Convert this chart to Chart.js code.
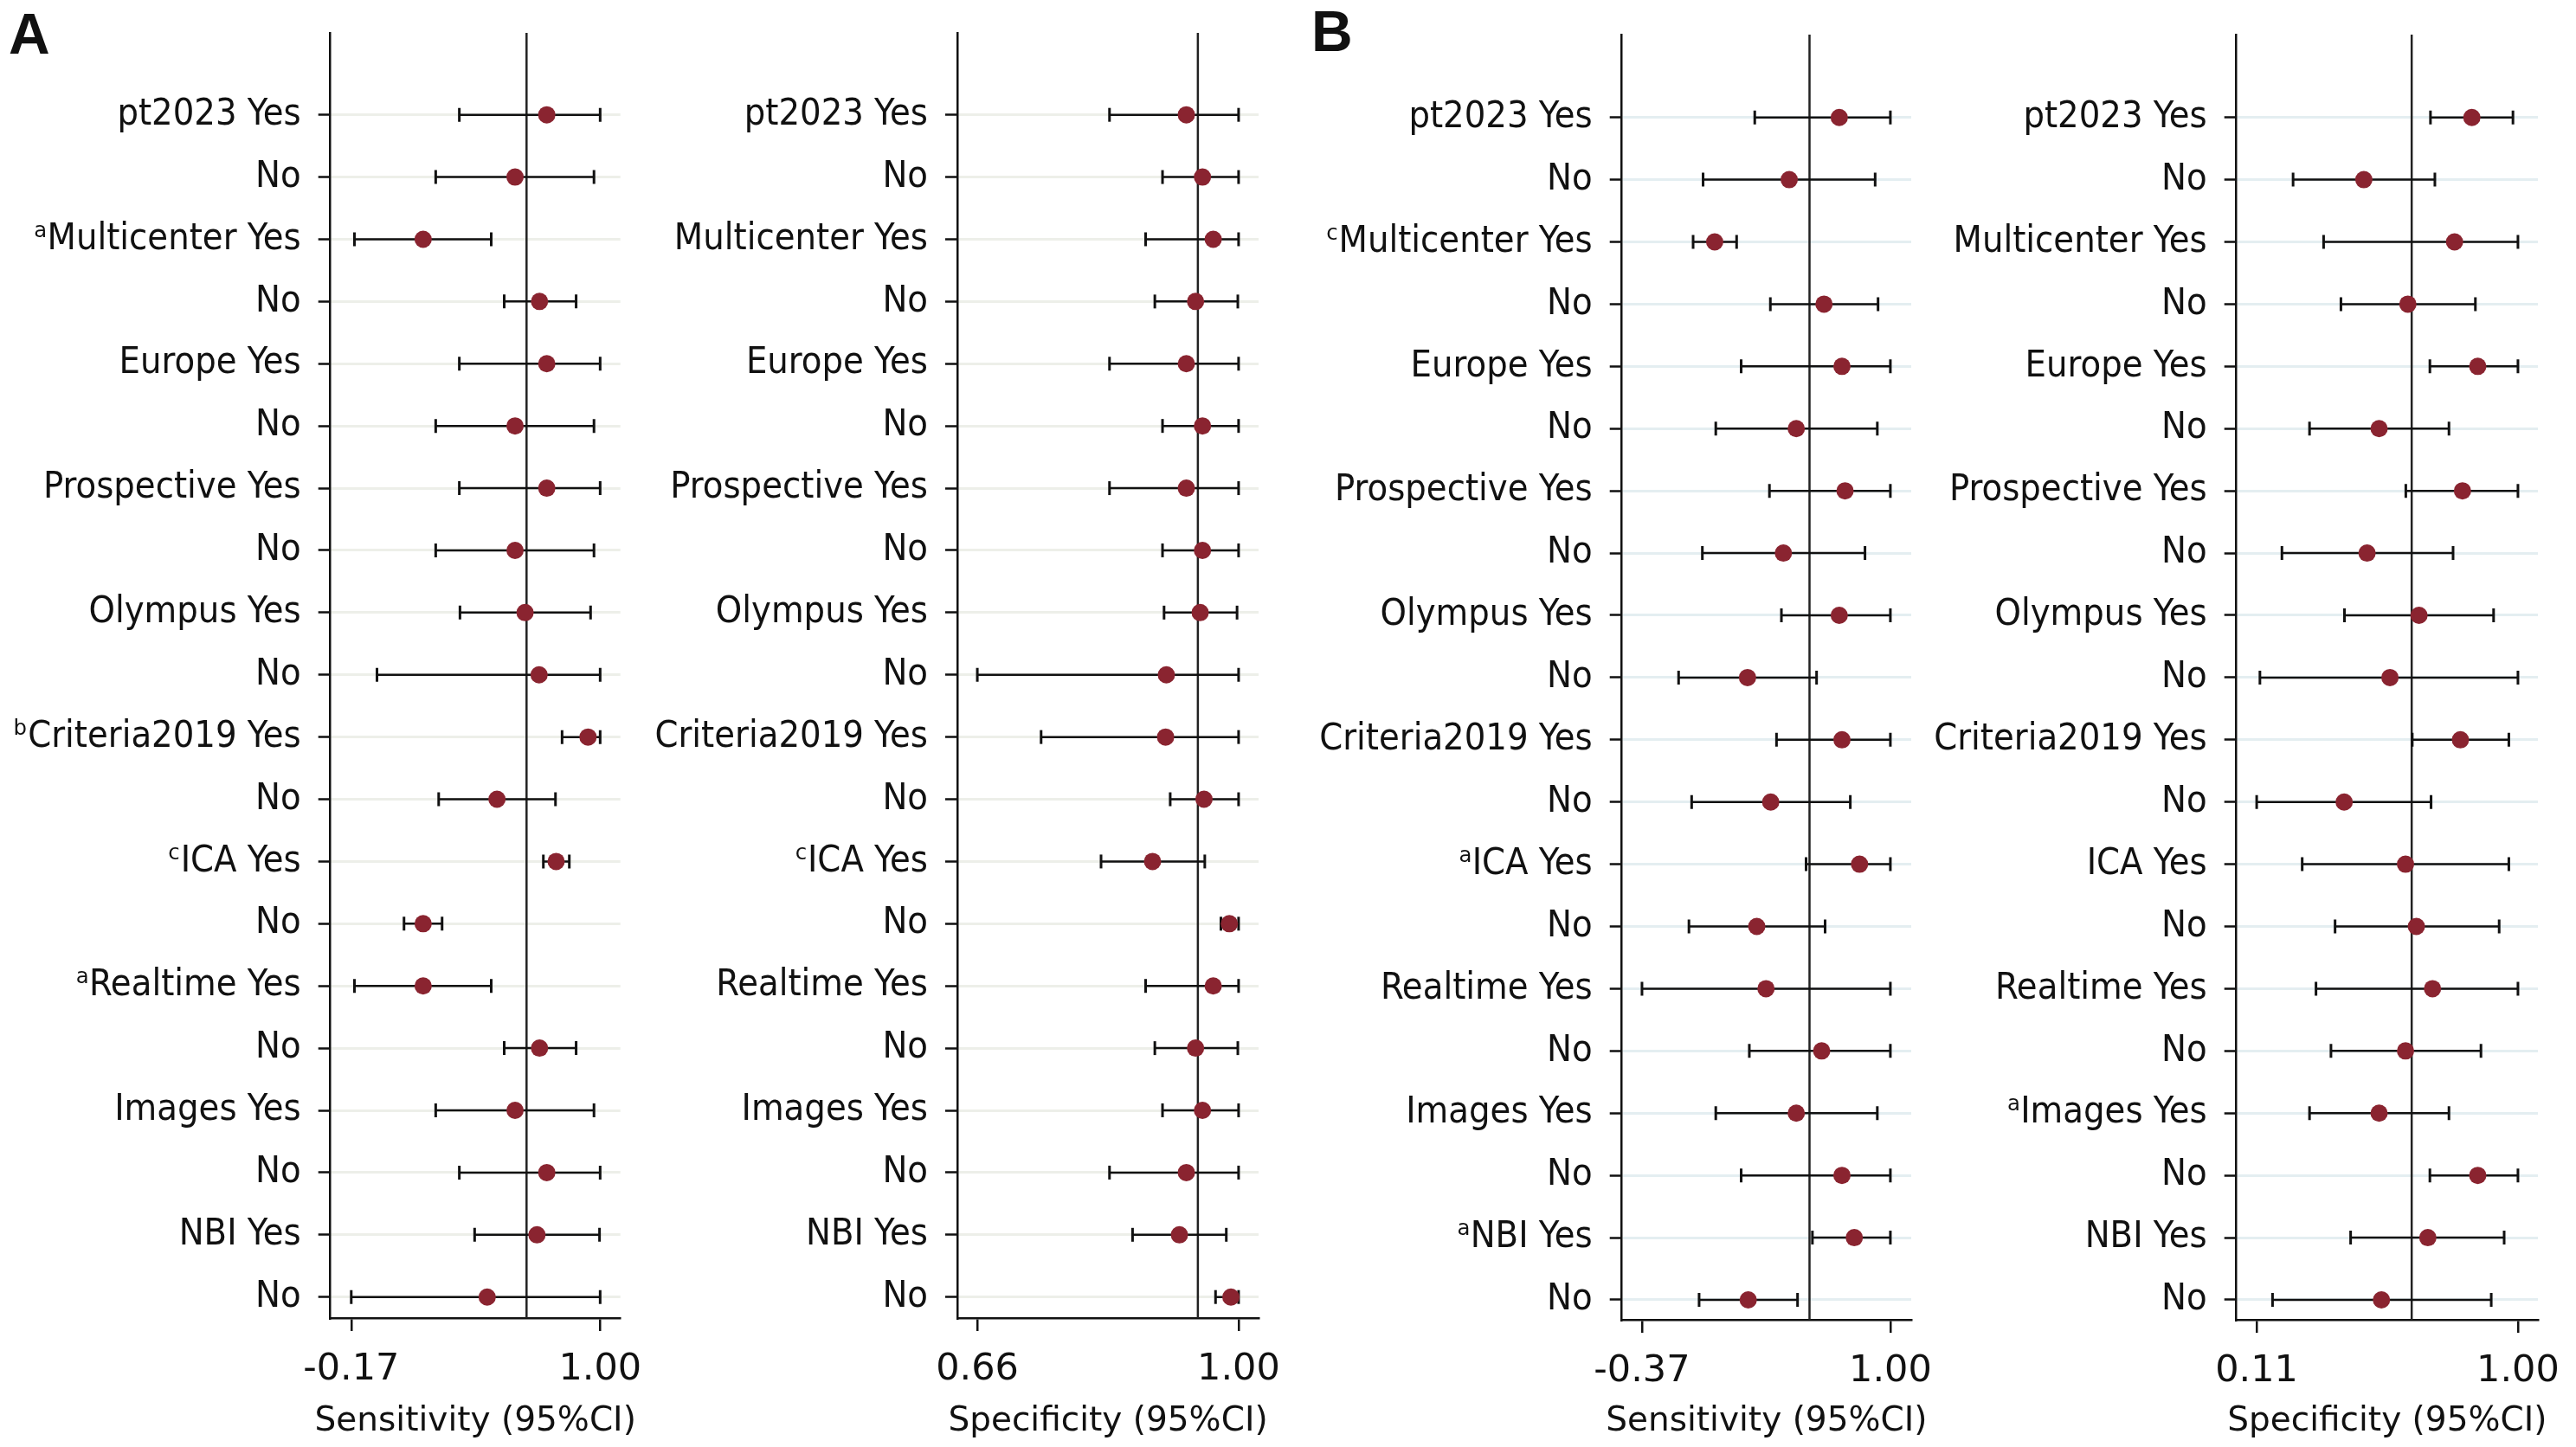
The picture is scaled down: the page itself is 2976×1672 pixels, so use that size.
<!DOCTYPE html>
<html>
<head>
<meta charset="utf-8">
<title>Subgroup forest plots</title>
<script src="https://cdn.jsdelivr.net/npm/chart.js@4.4.1/dist/chart.umd.min.js"></script>
<style>
  html, body { margin: 0; padding: 0; background: #fff; }
  body { width: 2976px; height: 1672px; position: relative; overflow: hidden; }
  canvas { position: absolute; top: 0; }
  .tag { position: absolute; font: bold 66px 'Liberation Sans', Arial, sans-serif; line-height: 1; color: #111; }
</style>
</head>
<body>
<div class="tag" style="left:10px; top:6px">A</div>
<div class="tag" style="left:1515px; top:3px">B</div>
<script>
// row labels (top to bottom)
const labelsSensA = ["pt2023 Yes", "No", "ᵃMulticenter Yes", "No", "Europe Yes", "No", "Prospective Yes", "No",
  "Olympus Yes", "No", "ᵇCriteria2019 Yes", "No", "ᶜICA Yes", "No", "ᵃRealtime Yes", "No", "Images Yes", "No", "NBI Yes", "No"];
const labelsSpecA = ["pt2023 Yes", "No", "Multicenter Yes", "No", "Europe Yes", "No", "Prospective Yes", "No",
  "Olympus Yes", "No", "Criteria2019 Yes", "No", "ᶜICA Yes", "No", "Realtime Yes", "No", "Images Yes", "No", "NBI Yes", "No"];
const labelsSensB = ["pt2023 Yes", "No", "ᶜMulticenter Yes", "No", "Europe Yes", "No", "Prospective Yes", "No",
  "Olympus Yes", "No", "Criteria2019 Yes", "No", "ᵃICA Yes", "No", "Realtime Yes", "No", "Images Yes", "No", "ᵃNBI Yes", "No"];
const labelsSpecB = ["pt2023 Yes", "No", "Multicenter Yes", "No", "Europe Yes", "No", "Prospective Yes", "No",
  "Olympus Yes", "No", "Criteria2019 Yes", "No", "ICA Yes", "No", "Realtime Yes", "No", "ᵃImages Yes", "No", "NBI Yes", "No"];

// panel A - sensitivity
const sensA = [0.749, 0.600, 0.168, 0.715, 0.749, 0.600, 0.749, 0.600, 0.647, 0.713, 0.943, 0.515, 0.793, 0.168, 0.168, 0.715, 0.600, 0.749, 0.703, 0.469];
const sensALo = [0.338, 0.227, -0.155, 0.549, 0.338, 0.227, 0.338, 0.227, 0.341, -0.049, 0.821, 0.241, 0.733, 0.078, -0.155, 0.549, 0.227, 0.338, 0.410, -0.170];
const sensAHi = [1.000, 0.971, 0.488, 0.887, 1.000, 0.971, 1.000, 0.971, 0.955, 1.000, 1.000, 0.790, 0.855, 0.257, 0.488, 0.887, 0.971, 1.000, 0.997, 1.000];

// panel A - specificity
const specA = [0.932, 0.953, 0.967, 0.944, 0.932, 0.953, 0.932, 0.953, 0.950, 0.906, 0.905, 0.955, 0.888, 0.988, 0.967, 0.944, 0.953, 0.932, 0.923, 0.990];
const specALo = [0.832, 0.901, 0.879, 0.891, 0.832, 0.901, 0.832, 0.901, 0.903, 0.660, 0.743, 0.911, 0.821, 0.977, 0.879, 0.891, 0.901, 0.832, 0.862, 0.970];
const specAHi = [1.000, 1.000, 1.000, 0.999, 1.000, 1.000, 1.000, 1.000, 0.998, 1.000, 1.000, 1.000, 0.956, 1.000, 1.000, 0.999, 1.000, 1.000, 0.984, 1.000];

// panel B - sensitivity
const sensB = [0.718, 0.442, 0.031, 0.634, 0.733, 0.481, 0.750, 0.410, 0.718, 0.212, 0.733, 0.340, 0.830, 0.263, 0.314, 0.621, 0.481, 0.733, 0.801, 0.216];
const sensBLo = [0.252, -0.033, -0.088, 0.338, 0.177, 0.037, 0.333, -0.037, 0.399, -0.168, 0.372, -0.096, 0.535, -0.111, -0.370, 0.222, 0.037, 0.177, 0.570, -0.055];
const sensBHi = [1.000, 0.916, 0.152, 0.932, 1.000, 0.928, 1.000, 0.860, 1.000, 0.593, 1.000, 0.779, 1.000, 0.640, 1.000, 1.000, 0.928, 1.000, 1.000, 0.488];

// panel B - specificity
const specB = [0.843, 0.475, 0.784, 0.625, 0.863, 0.527, 0.811, 0.486, 0.663, 0.564, 0.804, 0.408, 0.617, 0.654, 0.709, 0.617, 0.527, 0.863, 0.693, 0.535];
const specBLo = [0.702, 0.234, 0.338, 0.397, 0.700, 0.290, 0.618, 0.196, 0.409, 0.121, 0.640, 0.110, 0.265, 0.377, 0.312, 0.363, 0.290, 0.700, 0.430, 0.164];
const specBHi = [0.983, 0.717, 1.000, 0.855, 1.000, 0.765, 1.000, 0.779, 0.917, 1.000, 0.969, 0.704, 0.969, 0.936, 1.000, 0.874, 0.765, 1.000, 0.953, 0.909];

// pooled estimate (vertical line) and lower tick of each x axis
const refLines = [0.654, 0.947, 0.554, 0.638];
const lowTicks = [-0.17, 0.66, -0.37, 0.11];

const DOT = "#8a2430";
const INK = "#111";
const tickFont = { family: "'DejaVu Sans', sans-serif", size: 43 };
const rowFont = { family: "'DejaVu Sans Condensed', 'DejaVu Sans', sans-serif", size: 43 };
const TITLE_FONT = "39px 'DejaVu Sans', sans-serif";

// chart.js squeezes a scale title to the plot width, so the x title is drawn here unsqueezed
const axisTitle = {
  id: "axisTitle",
  afterDraw(chart, args, opts) {
    const { ctx, chartArea } = chart;
    ctx.save();
    ctx.font = TITLE_FONT;
    ctx.fillStyle = INK;
    ctx.textAlign = "center";
    ctx.textBaseline = "alphabetic";
    ctx.fillText(opts.text, (chartArea.left + chartArea.right) / 2, opts.baseline);
    ctx.restore();
  }
};

function forest(p) {
  const canvas = document.createElement("canvas");
  canvas.width = p.w;
  canvas.height = 1672;
  canvas.style.left = p.left + "px";
  document.body.appendChild(canvas);

  const rows = p.labels.map((_, i) => i);
  const whiskers = [];
  const caps = [];
  p.lo.forEach((lo, i) => {
    whiskers.push({ x: lo, y: i }, { x: p.hi[i], y: i }, { x: lo, y: null });
    caps.push({ x: lo, y: i }, { x: p.hi[i], y: i });
  });

  new Chart(canvas, {
    type: "scatter",
    data: {
      datasets: [
        { data: p.est.map((v, i) => ({ x: v, y: i })), pointRadius: 10, pointHoverRadius: 10,
          backgroundColor: DOT, borderWidth: 0, order: 0 },
        { data: caps, pointStyle: "line", rotation: 90, pointRadius: 8, pointHoverRadius: 8,
          borderColor: INK, borderWidth: 3, order: 1 },
        { data: whiskers, showLine: true, spanGaps: false, pointRadius: 0, pointHoverRadius: 0,
          borderColor: INK, borderWidth: 2.5, order: 2 },
        { data: [{ x: p.ref, y: p.yMin }, { x: p.ref, y: p.yMax }], showLine: true, pointRadius: 0,
          pointHoverRadius: 0, borderColor: "#222", borderWidth: 2.5, order: 3 }
      ]
    },
    plugins: [axisTitle],
    options: {
      responsive: false,
      animation: false,
      events: [],
      layout: { padding: { left: 0, right: p.left + p.w - p.right, top: p.top, bottom: 0 } },
      plugins: {
        legend: { display: false },
        tooltip: { enabled: false },
        axisTitle: { text: p.title, baseline: 1653 }
      },
      scales: {
        x: {
          type: "linear",
          min: p.xMin,
          max: p.xMax,
          afterBuildTicks: s => { s.ticks = [{ value: p.lowTick }, { value: 1 }]; },
          afterFit: s => { s.height = 1672 - p.bottom; s.paddingLeft = 0; s.paddingRight = 0; },
          ticks: { callback: v => v.toFixed(2), font: tickFont, color: INK, padding: 19, maxRotation: 0, autoSkip: false },
          grid: { drawOnChartArea: false, drawTicks: true, tickLength: 15, color: INK, lineWidth: 2.5 },
          border: { display: true, color: INK, width: 2.5 },
          title: { display: false }
        },
        y: {
          type: "linear",
          reverse: true,
          min: p.yMin,
          max: p.yMax,
          afterBuildTicks: s => { s.ticks = rows.map(v => ({ value: v })); },
          afterFit: s => { s.width = p.axisX - p.left; s.paddingTop = 0; s.paddingBottom = 0; },
          ticks: { callback: v => p.labels[v], font: rowFont, color: INK, padding: 20, autoSkip: false },
          grid: { color: p.grid, lineWidth: 3, drawTicks: true, tickLength: 14, tickColor: INK, tickWidth: 2.5 },
          border: { display: true, color: INK, width: 2.5 }
        }
      }
    }
  });
}

forest({ left: 0, w: 800, axisX: 381.7, right: 716.7, top: 38, bottom: 1523, yMin: -1.317, yMax: 19.338,
  xMin: -0.268, xMax: 1.095, lowTick: lowTicks[0], ref: refLines[0], grid: "#edefe9",
  labels: labelsSensA, est: sensA, lo: sensALo, hi: sensAHi, title: "Sensitivity (95%CI)" });
forest({ left: 730, w: 800, axisX: 1106, right: 1454, top: 38, bottom: 1523, yMin: -1.317, yMax: 19.338,
  xMin: 0.634, xMax: 1.026, lowTick: lowTicks[1], ref: refLines[1], grid: "#edefe9",
  labels: labelsSpecA, est: specA, lo: specALo, hi: specAHi, title: "Specificity (95%CI)" });
forest({ left: 1500, w: 790, axisX: 1873.7, right: 2208, top: 40, bottom: 1525, yMin: -1.331, yMax: 19.32,
  xMin: -0.481, xMax: 1.115, lowTick: lowTicks[2], ref: refLines[2], grid: "#e4eef1",
  labels: labelsSensB, est: sensB, lo: sensBLo, hi: sensBHi, title: "Sensitivity (95%CI)" });
forest({ left: 2200, w: 776, axisX: 2583.7, right: 2932, top: 40, bottom: 1525, yMin: -1.331, yMax: 19.32,
  xMin: 0.041, xMax: 1.068, lowTick: lowTicks[3], ref: refLines[3], grid: "#e4eef1",
  labels: labelsSpecB, est: specB, lo: specBLo, hi: specBHi, title: "Specificity (95%CI)" });
</script>
</body>
</html>
